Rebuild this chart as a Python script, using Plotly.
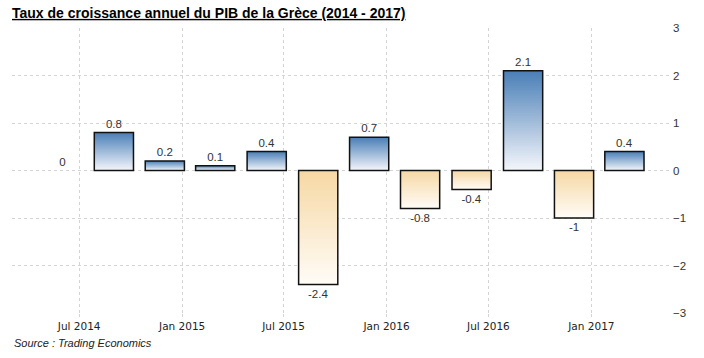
import plotly.graph_objects as go

# ---- data ----
dates = ['2014-06-01', '2014-09-01', '2014-12-01', '2015-03-01', '2015-06-01', '2015-09-01',
         '2015-12-01', '2016-03-01', '2016-06-01', '2016-09-01', '2016-12-01', '2017-03-01']
values = [0, 0.8, 0.2, 0.1, 0.4, -2.4, 0.7, -0.8, -0.4, 2.1, -1, 0.4]
labels = ['0', '0.8', '0.2', '0.1', '0.4', '-2.4', '0.7', '-0.8', '-0.4', '2.1', '-1', '0.4']
y_ticks = [-3, -2, -1, 0, 1, 2, 3]
title_text = 'Taux de croissance annuel du PIB de la Grèce (2014 - 2017)'
source_text = 'Source : Trading Economics'

# ---- style ----
BLUE_TOP, BLUE_BOTTOM = (74, 126, 182), (244, 247, 251)
BEIGE_TOP, BEIGE_BOTTOM = (246, 216, 164), (255, 252, 247)
BAR_WIDTH_MS = 70 * 86400000
GRID = '#d4d4d4'
N = 40


def mix(c1, c2, t):
    return 'rgb(%d,%d,%d)' % tuple(round(a + (b - a) * t) for a, b in zip(c1, c2))


fig = go.Figure()

# gradient fill: overlaid bars, largest first
for k in range(N, 0, -1):
    f = k / N
    fm = (k - 0.5) / N
    cols = [mix(BLUE_BOTTOM, BLUE_TOP, fm) if v >= 0 else mix(BEIGE_TOP, BEIGE_BOTTOM, fm)
            for v in values]
    fig.add_trace(go.Bar(
        x=dates, y=[v * f for v in values], width=BAR_WIDTH_MS,
        marker=dict(color=cols, line=dict(width=0)),
        hoverinfo='skip', showlegend=False,
    ))

# outline + labels
fig.add_trace(go.Bar(
    x=dates, y=values, width=BAR_WIDTH_MS,
    marker=dict(color='rgba(0,0,0,0)',
                line=dict(color='#111111', width=[0 if v == 0 else 1.5 for v in values])),
    text=labels, textposition='outside', cliponaxis=False,
    textfont=dict(family='Liberation Sans', size=11.5, color='#333333'),
    showlegend=False,
))

fig.update_layout(
    width=704, height=358,
    margin=dict(l=12, r=32, t=28, b=45),
    paper_bgcolor='white', plot_bgcolor='white',
    barmode='overlay',
    title=dict(
        text=title_text, x=12 / 704, xanchor='left', xref='container',
        y=1 - 13 / 358, yanchor='middle', yref='container',
        font=dict(family='Liberation Sans', size=14, weight='bold', color='#000000',
                  lineposition='under'),
    ),
    xaxis=dict(
        type='date', range=['2014-03-03', '2017-05-25'],
        tick0='2014-07-01', dtick='M6', tickformat='%b %Y',
        showgrid=True, gridcolor=GRID, griddash='dot', gridwidth=1,
        zeroline=False, showline=False,
        ticks='outside', ticklen=3, tickcolor=GRID,
        tickfont=dict(family='DejaVu Sans', size=10.5, color='#222222'),
    ),
    yaxis=dict(
        side='right', range=[-3, 3], tickvals=y_ticks,
        showgrid=True, gridcolor=GRID, griddash='dot', gridwidth=1,
        zeroline=False, showline=False,
        tickfont=dict(family='Liberation Sans', size=11.5, color='#333333'),
    ),
    annotations=[dict(
        text=source_text, xref='paper', yref='paper', x=0, y=-0.105,
        xanchor='left', yanchor='middle', showarrow=False,
        font=dict(family='Liberation Sans', size=11, style='italic', color='#222222'),
    )],
)

fig.write_html('out.html', config={'displayModeBar': False},
               post_script="document.body.style.margin='0';")
